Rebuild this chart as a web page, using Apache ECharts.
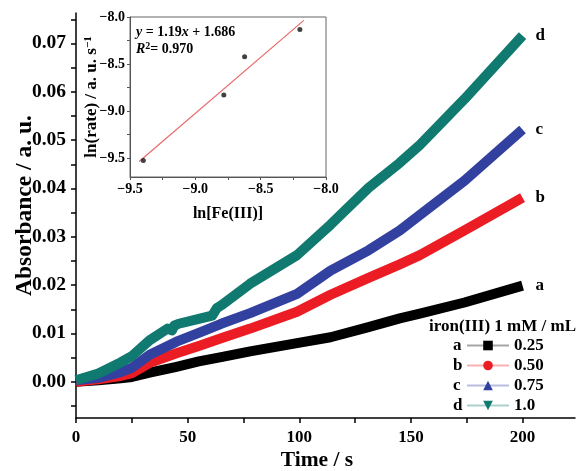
<!DOCTYPE html>
<html>
<head>
<meta charset="utf-8">
<script src="https://cdn.jsdelivr.net/npm/echarts@6.0.0/dist/echarts.min.js"></script>
<style>
  html, body { margin: 0; padding: 0; background: #fff; }
  #chart { width: 577px; height: 471px; }
</style>
</head>
<body>
<div id="chart"></div>
<script>
// Absorbance vs time for four iron(III) volumes (curves a-d)
const times = [0, 10, 20, 25, 33, 45, 55, 65, 78, 99, 114, 131, 145, 154, 174, 200];
const absA = [0, 0.0003, 0.0007, 0.0010, 0.0019, 0.0031, 0.0042, 0.0051, 0.0063, 0.0080, 0.0092, 0.0113, 0.0131, 0.0141, 0.0164, 0.0199];
const absB = [0, 0.0005, 0.0012, 0.0018, 0.0039, 0.0059, 0.0074, 0.0090, 0.0110, 0.0145, 0.0180, 0.0215, 0.0243, 0.0262, 0.0313, 0.0381];
const absC = [0.0003, 0.0008, 0.0020, 0.0029, 0.0056, 0.0083, 0.0101, 0.0120, 0.0142, 0.0182, 0.0230, 0.0272, 0.0313, 0.0345, 0.0416, 0.0522];
const timesD = [0, 10, 20, 25, 33, 41, 43, 44, 46, 55, 61, 63, 65, 78, 99, 114, 131, 145, 154, 174, 200];
const absD = [0.0003, 0.0017, 0.0040, 0.0053, 0.0086, 0.0110, 0.0106, 0.0116, 0.0120, 0.0130, 0.0137, 0.0152, 0.0158, 0.0203, 0.0262, 0.0325, 0.0401, 0.0453, 0.0490, 0.0585, 0.0716];

const curveLetters = ['a', 'b', 'c', 'd'];
const ironVolumes = ['0.25', '0.50', '0.75', '1.0'];
const legendTitle = 'iron(III) 1 mM / mL';

const xTicks = [0, 25, 50, 75, 100, 125, 150, 175, 200];
const xLabels = [0, 50, 100, 150, 200];
const yTicks = [-0.005, 0, 0.005, 0.01, 0.015, 0.02, 0.025, 0.03, 0.035, 0.04, 0.045, 0.05, 0.055, 0.06, 0.065, 0.07, 0.075];
const yLabels = [0, 0.01, 0.02, 0.03, 0.04, 0.05, 0.06, 0.07];

// Inset: ln(rate) against ln[Fe(III)] with linear fit
const lnFe = [-9.398, -8.782, -8.623, -8.200];
const lnRate = [-9.526, -8.829, -8.422, -8.133];
const fitSlope = 1.19;
const fitIntercept = 1.686;
const fitR2 = '0.970';
const fitRange = [-9.43, -8.17];
const insetXTicks = [-9.5, -9.25, -9.0, -8.75, -8.5, -8.25, -8.0];
const insetYTicks = [-9.5, -9.25, -9.0, -8.75, -8.5, -8.25, -8.0];
const insetYLabels = [-9.5, -9.0, -8.5, -8.0];

const colors = ['#000000', '#ec1c24', '#3241a0', '#117a70'];
const symbols = ['rect', 'circle', 'triangle', 'triangle'];
const rotations = [0, 0, 0, 180];

const FONT = '"Liberation Serif", "Times New Roman", serif';
const pairs = (xs, ys) => xs.map((x, i) => [x, ys[i]]);
const minus = v => (v < 0 ? '\u2212' : '') + Math.abs(v).toFixed(1);

const seriesData = [pairs(times, absA), pairs(times, absB), pairs(times, absC), pairs(timesD, absD)];

const mainSeries = seriesData.map((d, i) => ({
  name: ironVolumes[i],
  type: 'line',
  xAxisIndex: 0,
  yAxisIndex: 0,
  data: d,
  showSymbol: false,
  symbol: symbols[i],
  symbolRotate: rotations[i],
  symbolSize: 10,
  itemStyle: { color: colors[i] },
  lineStyle: { color: colors[i], width: 10, cap: 'butt', join: 'round' },
  emphasis: { disabled: true },
  endLabel: {
    show: true,
    formatter: curveLetters[i],
    distance: 13,
    color: '#000',
    fontFamily: FONT,
    fontWeight: 'bold',
    fontSize: 17
  },
  z: 2 + i
}));

const fitData = fitRange.map(x => [x, fitSlope * x + fitIntercept]);

const chart = echarts.init(document.getElementById('chart'), null, { renderer: 'canvas' });

const axisFont = { fontFamily: FONT, fontWeight: 'bold', color: '#000' };

chart.setOption({
  animation: false,
  backgroundColor: '#fff',
  grid: [
    { left: 76, right: 2, top: 13, bottom: 53, outerBoundsMode: 'none' },
    { left: 130, right: 251, top: 17, bottom: 294, outerBoundsMode: 'none', show: true, borderColor: '#666', borderWidth: 1, backgroundColor: '#fff', z: 10 }
  ],
  xAxis: [
    {
      gridIndex: 0, type: 'value', min: 0, max: 223.5,
      axisLine: { onZero: false, lineStyle: { color: '#000', width: 1.5 } },
      axisTick: { customValues: xTicks, length: 5, lineStyle: { color: '#000', width: 1.5 } },
      axisLabel: Object.assign({ customValues: xLabels, fontSize: 17, margin: 11 }, axisFont),
      splitLine: { show: false },
      name: 'Time / s', nameLocation: 'middle', nameGap: 31, nameMoveOverlap: false,
      nameTextStyle: Object.assign({ fontSize: 21.5, padding: [0, 17, 0, 0] }, axisFont)
    },
    {
      gridIndex: 1, type: 'value', min: -9.5, max: -8.0, interval: 0.5,
      axisLine: { onZero: false, lineStyle: { color: '#555', width: 1 } },
      axisTick: { customValues: insetXTicks, length: 3, lineStyle: { color: '#555' } },
      axisLabel: Object.assign({ fontSize: 14, margin: 5, formatter: minus }, axisFont),
      splitLine: { show: false },
      name: 'ln[Fe(III)]', nameLocation: 'middle', nameGap: 29, nameMoveOverlap: false,
      nameTextStyle: Object.assign({ fontSize: 16 }, axisFont),
      z: 11
    }
  ],
  yAxis: [
    {
      gridIndex: 0, type: 'value', min: -0.0075, max: 0.0763,
      axisLine: { onZero: false, lineStyle: { color: '#000', width: 1.5 } },
      axisTick: { customValues: yTicks, length: 5, lineStyle: { color: '#000', width: 1.5 } },
      axisLabel: Object.assign({ customValues: yLabels, fontSize: 19.5, margin: 10, formatter: v => v.toFixed(2) }, axisFont),
      splitLine: { show: false },
      name: 'Absorbance / a. u.', nameLocation: 'middle', nameGap: 39, nameRotate: 90, nameMoveOverlap: false,
      nameTextStyle: Object.assign({ fontSize: 23.5, padding: [0, 0, 0, 20] }, axisFont)
    },
    {
      gridIndex: 1, type: 'value', min: -9.7, max: -8.0,
      axisLine: { onZero: false, lineStyle: { color: '#555', width: 1 } },
      axisTick: { customValues: insetYTicks, length: 3, lineStyle: { color: '#555' } },
      axisLabel: Object.assign({ customValues: insetYLabels, fontSize: 14, margin: 5, formatter: minus }, axisFont),
      splitLine: { show: false },
      name: 'ln(rate) / a. u. s{sup|\u22121}', nameLocation: 'middle', nameGap: 29, nameRotate: 90, nameMoveOverlap: false,
      nameTextStyle: Object.assign({
        fontSize: 17,
        rich: { sup: { fontFamily: FONT, fontWeight: 'bold', fontSize: 11, verticalAlign: 'top', padding: [0, 0, 7, 0] } }
      }, axisFont),
      z: 11
    }
  ],
  legend: {
    data: ironVolumes,
    orient: 'vertical',
    left: 466,
    top: 337,
    padding: 0,
    itemWidth: 42,
    itemHeight: 12,
    itemGap: 3,
    selectedMode: false,
    textStyle: { fontFamily: FONT, fontWeight: 'bold', fontSize: 17, color: '#000', lineHeight: 17 },
    lineStyle: { width: 2, opacity: 0.35 }
  },
  graphic: [
    {
      type: 'text', left: 429, top: 318, z: 20,
      style: { text: legendTitle, fontFamily: FONT, fontWeight: 'bold', fontSize: 17, fill: '#000' }
    },
    ...curveLetters.map((c, i) => ({
      type: 'text', left: 453, top: 337 + i * 20, z: 20,
      style: { text: c, fontFamily: FONT, fontWeight: 'bold', fontSize: 17, fill: '#000' }
    })),
    {
      type: 'text', left: 136, top: 25, z: 30,
      style: {
        text: '{i|y} = ' + fitSlope + '{i|x} + ' + fitIntercept,
        fontFamily: FONT, fontWeight: 'bold', fontSize: 14, fill: '#000',
        rich: { i: { fontFamily: FONT, fontWeight: 'bold', fontStyle: 'italic', fontSize: 14 } }
      }
    },
    {
      type: 'text', left: 136, top: 41, z: 30,
      style: {
        text: '{i|R}{s|2}= ' + fitR2,
        fontFamily: FONT, fontWeight: 'bold', fontSize: 14, fill: '#000',
        rich: {
          i: { fontFamily: FONT, fontWeight: 'bold', fontStyle: 'italic', fontSize: 14 },
          s: { fontFamily: FONT, fontWeight: 'bold', fontSize: 10, verticalAlign: 'top', padding: [0, 0, 6, 0] }
        }
      }
    }
  ],
  series: [
    ...mainSeries,
    {
      type: 'line', xAxisIndex: 1, yAxisIndex: 1, data: fitData,
      showSymbol: false, silent: true,
      lineStyle: { color: '#e8696b', width: 1.2 }, z: 20
    },
    {
      type: 'scatter', xAxisIndex: 1, yAxisIndex: 1, data: pairs(lnFe, lnRate),
      symbol: 'circle', symbolSize: 5, silent: true,
      itemStyle: { color: '#111' }, z: 21
    }
  ]
});
</script>
</body>
</html>
